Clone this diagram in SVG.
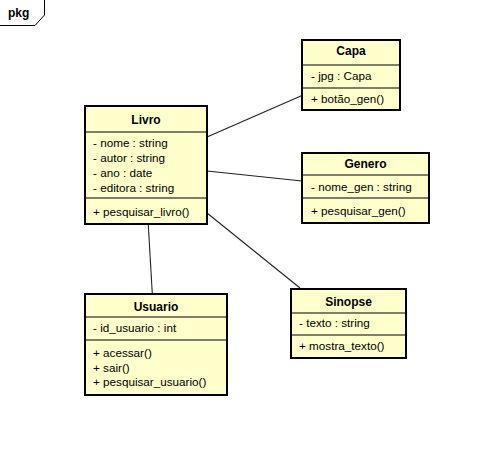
<svg xmlns="http://www.w3.org/2000/svg" width="487" height="472" viewBox="0 0 487 472">
  <style>
    .box { fill: #FFFFCC; stroke: #000; stroke-width: 2; }
    .sep { stroke: #000; stroke-width: 1.2; }
    .name { font-family: "Liberation Sans", Arial, sans-serif; font-size: 12px; font-weight: bold; text-anchor: middle; fill: #000; }
    .mem { font-family: "Liberation Sans", Arial, sans-serif; font-size: 11.7px; fill: #000; }
    .edge { stroke: #222; stroke-width: 1.1; fill: none; }
    .frame { stroke: #000; stroke-width: 1; fill: none; }
  </style>
  <rect width="487" height="472" fill="#fff"/>

  <!-- package frame tab -->
  <g id="pkg">
    <path class="frame" d="M0 25.5 H35 L44.5 15 V0"/>
    <text x="8" y="17" class="name" style="text-anchor:start">pkg</text>
  </g>

  <!-- associations -->
  <g id="connectors">
    <line class="edge" x1="207" y1="137" x2="302" y2="95.5"/>
    <line class="edge" x1="207" y1="171" x2="302" y2="181"/>
    <line class="edge" x1="207" y1="213" x2="300" y2="288"/>
    <line class="edge" x1="148.3" y1="225" x2="152.3" y2="294"/>
  </g>

  <g id="Livro">
    <rect class="box" x="85" y="106" width="122" height="118"/>
    <line class="sep" x1="85" y1="132" x2="207" y2="132"/>
    <line class="sep" x1="85" y1="198" x2="207" y2="198"/>
    <text class="name" x="146" y="124">Livro</text>
    <text class="mem" x="93" y="147">- nome : string</text>
    <text class="mem" x="93" y="162">- autor : string</text>
    <text class="mem" x="93" y="177">- ano : date</text>
    <text class="mem" x="93" y="192">- editora : string</text>
    <text class="mem" x="93" y="216">+ pesquisar_livro()</text>
  </g>

  <g id="Capa">
    <rect class="box" x="302" y="40" width="98" height="70"/>
    <line class="sep" x1="302" y1="65" x2="400" y2="65"/>
    <line class="sep" x1="302" y1="88" x2="400" y2="88"/>
    <text class="name" x="351" y="55">Capa</text>
    <text class="mem" x="311" y="80">- jpg : Capa</text>
    <text class="mem" x="311" y="103">+ botão_gen()</text>
  </g>

  <g id="Genero">
    <rect class="box" x="302" y="153" width="127" height="70"/>
    <line class="sep" x1="302" y1="175" x2="429" y2="175"/>
    <line class="sep" x1="302" y1="198" x2="429" y2="198"/>
    <text class="name" x="365.5" y="168">Genero</text>
    <text class="mem" x="311" y="191">- nome_gen : string</text>
    <text class="mem" x="311" y="215">+ pesquisar_gen()</text>
  </g>

  <g id="Usuario">
    <rect class="box" x="85" y="294" width="142" height="101"/>
    <line class="sep" x1="85" y1="317" x2="227" y2="317"/>
    <line class="sep" x1="85" y1="340" x2="227" y2="340"/>
    <text class="name" x="156" y="311">Usuario</text>
    <text class="mem" x="93" y="332">- id_usuario : int</text>
    <text class="mem" x="93" y="357">+ acessar()</text>
    <text class="mem" x="93" y="371.5">+ sair()</text>
    <text class="mem" x="93" y="386">+ pesquisar_usuario()</text>
  </g>

  <g id="Sinopse">
    <rect class="box" x="291" y="289" width="115" height="69"/>
    <line class="sep" x1="291" y1="313" x2="406" y2="313"/>
    <line class="sep" x1="291" y1="335" x2="406" y2="335"/>
    <text class="name" x="348.5" y="306">Sinopse</text>
    <text class="mem" x="299" y="327">- texto : string</text>
    <text class="mem" x="299" y="350">+ mostra_texto()</text>
  </g>
</svg>
